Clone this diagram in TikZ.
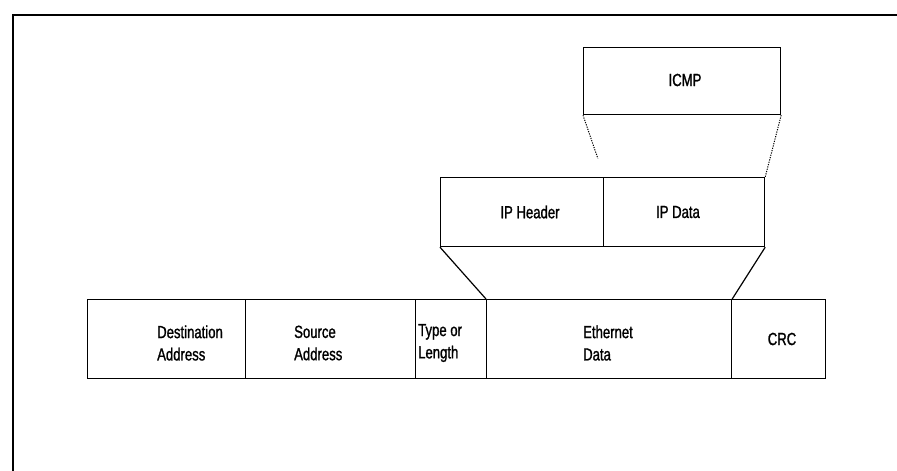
\documentclass[tikz,border=0pt]{standalone}
\usepackage{fontspec}
\setmainfont{Liberation Sans}[FakeStretch=0.75, FakeBold=1.2]
\usetikzlibrary{calc}
\tikzset{
  box/.style={draw, line width=1.2pt, anchor=north west, inner sep=0pt},
  lbl/.style={font=\fontsize{17.5}{22.3}\selectfont, inner sep=0pt, align=left},
  link/.style={line width=1.2pt},
  dotlink/.style={line width=1pt, dash pattern=on 1.2pt off 1.2pt},
  frame/.style={line width=1.6pt}
}
\begin{document}
\begin{tikzpicture}[x=1pt, y=-1pt]
\useasboundingbox (0,0) rectangle (897,471);
% outer frame (top and left edge)
\coordinate (fbl) at (13,471);
\coordinate (ftl) at (13,15);
\coordinate (ftr) at (897,15);
\draw[frame] (fbl) -- (ftl) -- (ftr);
% ICMP
\node[box, minimum width=197, minimum height=67] (icmp) at (583,47) {};
\node[lbl] (ticmp) at (685,80) {ICMP};
% IP packet
\node[box, minimum width=163, minimum height=69] (iph) at (440,177) {};
\node[box, minimum width=161, minimum height=69] (ipd) at (603,177) {};
\node[lbl] (tiph) at (530,212) {IP Header};
\node[lbl] (tipd) at (678,212) {IP Data};
% Ethernet frame
\node[box, minimum width=158, minimum height=79] (dst) at (87,299) {};
\node[box, minimum width=170, minimum height=79] (src) at (245,299) {};
\node[box, minimum width=71, minimum height=79] (typ) at (415,299) {};
\node[box, minimum width=245, minimum height=79] (eth) at (486,299) {};
\node[box, minimum width=94, minimum height=79] (crc) at (731,299) {};
\node[lbl, anchor=west] (tdst) at (157,343) {Destination\\Address};
\node[lbl, anchor=west] (tsrc) at (294,343) {Source\\Address};
\node[lbl, anchor=west] (ttyp) at (418,343) {Type or\\Length};
\node[lbl, anchor=west] (teth) at (583,343) {Ethernet\\Data};
\node[lbl] (tcrc) at (782,339) {CRC};
% connectors
\draw[link] (iph.south west) -- (eth.north west);
\draw[link] (ipd.south east) -- (eth.north east);
\coordinate (dend) at ($(icmp.south west)!0.7!(iph.north east)$);
\draw[dotlink] (icmp.south west) -- (dend);
\draw[dotlink] (icmp.south east) -- (ipd.north east);
\end{tikzpicture}
\end{document}
